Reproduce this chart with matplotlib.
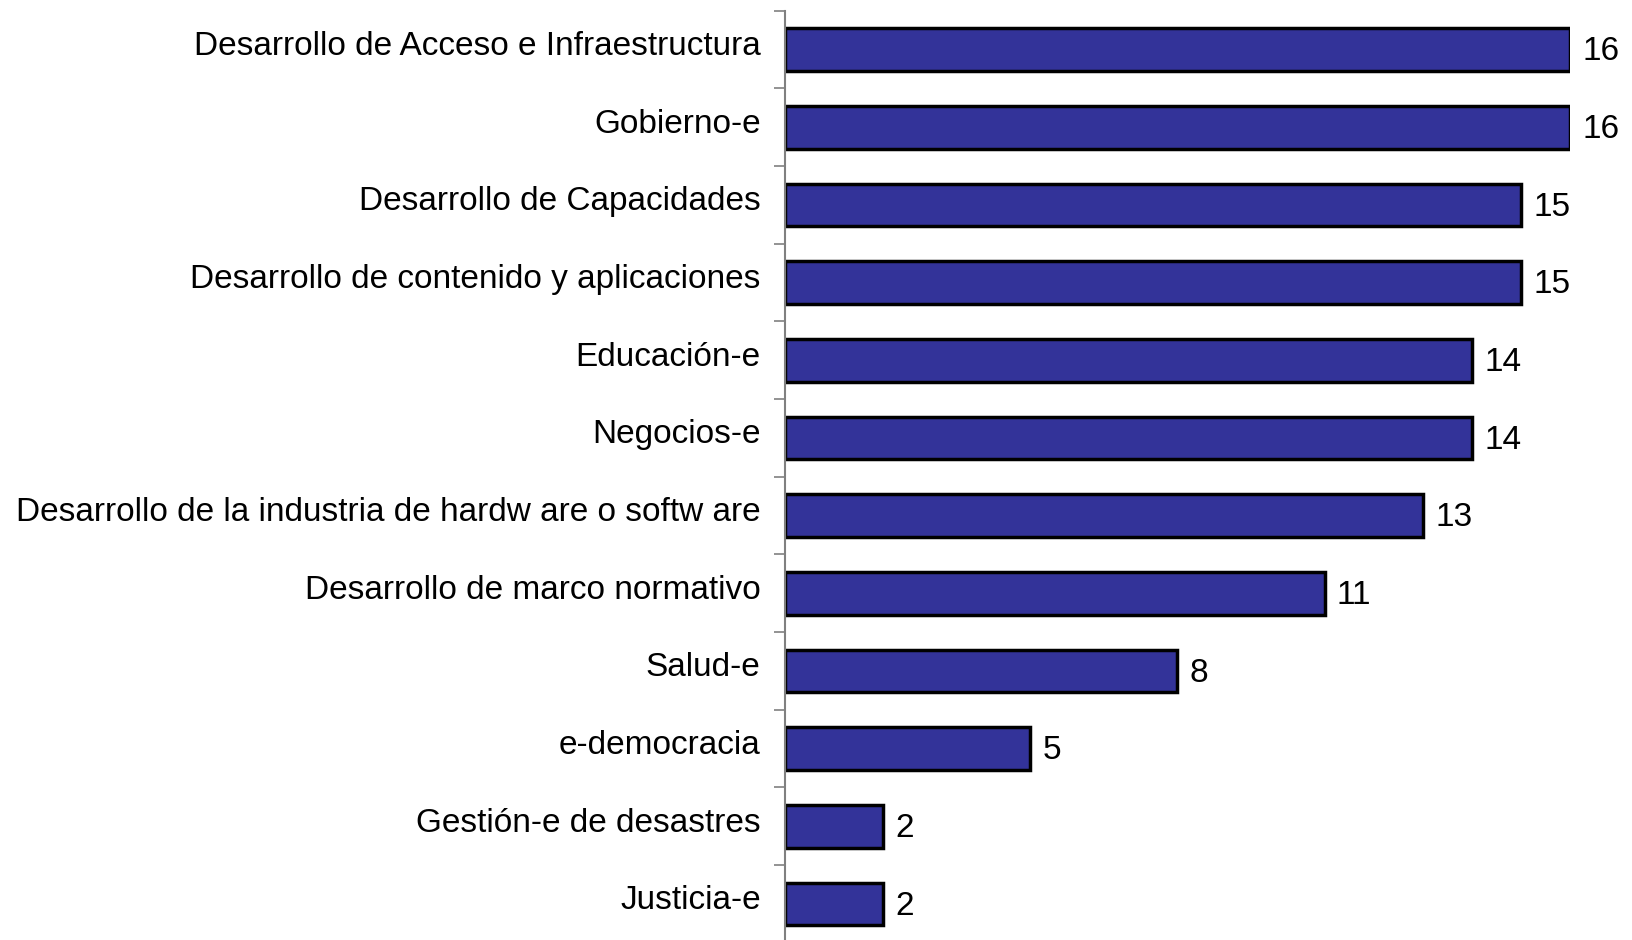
import matplotlib
matplotlib.use("Agg")
import matplotlib.pyplot as plt
import numpy as np

plt.rcParams['font.family'] = ['Liberation Sans', 'DejaVu Sans']

categorias = [
    "Desarrollo de Acceso e Infraestructura",
    "Gobierno-e",
    "Desarrollo de Capacidades",
    "Desarrollo de contenido y aplicaciones",
    "Educación-e",
    "Negocios-e",
    "Desarrollo de la industria de hardw are o softw are",
    "Desarrollo de marco normativo",
    "Salud-e",
    "e-democracia",
    "Gestión-e de desastres",
    "Justicia-e",
]
valores = [16, 16, 15, 15, 14, 14, 13, 11, 8, 5, 2, 2]

fig = plt.figure(figsize=(16.33, 9.4), dpi=100)
ax = fig.add_axes([0.4807, -0.003, 0.4807, 0.9915])

y = np.arange(len(categorias))
ax.barh(y, valores, height=0.55, color='#333399', edgecolor='black', linewidth=2.5)

# etiquetas de valor al final de cada barra
for yi, v in zip(y, valores):
    ax.text(v + 0.25, yi + 0.03, str(v), va='center', ha='left', fontsize=24)

# etiquetas de categorias (un poco por encima del centro de la barra)
for yi, cat in zip(y, categorias):
    ax.annotate(cat, xy=(0, yi), xycoords=('axes fraction', 'data'),
                xytext=(-17.5, 2.2), textcoords='offset points',
                ha='right', va='center', fontsize=24)

ax.set_xlim(0, 16)
ax.set_ylim(len(categorias) - 0.5, -0.5)
ax.set_yticks(np.arange(-0.5, len(categorias), 1))
ax.set_yticklabels([])
ax.tick_params(axis='y', length=8, width=1.2, color='#808080')
ax.set_xticks([])
for s in ['top', 'right', 'bottom']:
    ax.spines[s].set_visible(False)
ax.spines['left'].set_color('#808080')
ax.spines['left'].set_linewidth(1.5)

fig.savefig("out.png", dpi=100)
